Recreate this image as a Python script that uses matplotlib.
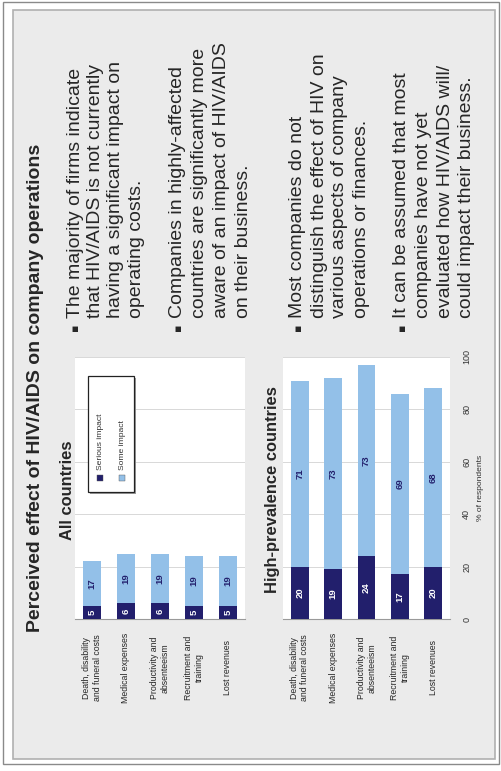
import matplotlib
matplotlib.use("Agg")
import matplotlib.pyplot as plt
from matplotlib.patches import Rectangle

# bild ist um 90 grad gedreht -> alles hochkant zeichnen
W, H = 501, 771

categories = ["Death, disability\nand funeral costs", "Medical expenses",
              "Productivity and\nabsenteeism", "Recruitment and\ntraining",
              "Lost revenues"]
all_serious = [5, 6, 6, 5, 5]
all_some = [17, 19, 19, 19, 19]
high_serious = [20, 19, 24, 17, 20]
high_some = [71, 73, 73, 69, 68]
value_ticks = [0, 20, 40, 60, 80, 100]
legend_labels = ["Serious impact", "Some impact"]

title = "Perceived effect of HIV/AIDS on company operations"
bullets = [
    ["The majority of firms indicate", "that HIV/AIDS is not currently",
     "having a significant impact on", "operating costs."],
    ["Companies in highly-affected", "countries are significantly more",
     "aware of an impact of HIV/AIDS", "on their business."],
    ["Most companies do not", "distinguish the effect of HIV on",
     "various aspects of company", "operations or finances."],
    ["It can be assumed that most", "companies have not yet",
     "evaluated how HIV/AIDS will/", "could impact their business."],
]

DARK = "#221f6c"
LIGHT = "#93c0e8"
BG = "#ebebeb"
TXT = "#262626"

plt.rcParams["font.family"] = ["Liberation Sans", "DejaVu Sans"]


def fx(x):
    return x / W


def fy(y):
    return 1 - y / H


def pt(px):
    return px * 72 / 100


fig = plt.figure(figsize=(W / 100, H / 100), dpi=100)

# rahmen + grauer hintergrund
fig.add_artist(Rectangle((fx(3), fy(764)), 496 / W, 762 / H, transform=fig.transFigure,
                         fill=False, edgecolor="#8a8a8a", lw=1.0, zorder=-3))
fig.add_artist(Rectangle((fx(13), fy(759)), 482 / W, 749 / H, transform=fig.transFigure,
                         facecolor=BG, edgecolor="#b0b0b0", lw=1.2, zorder=-2))

# titel
fig.text(fx(36), fy(388), title, rotation=90, ha="center", va="center",
         fontsize=pt(19.5), fontweight="bold", color=TXT)

# bullet texte
line_x = [[75, 95.5, 116, 136.5], [178, 200, 222, 244],
          [298, 319, 340, 361], [402, 423.5, 445, 466.5]]
for lines, xs in zip(bullets, line_x):
    fig.text(fx(xs[0]), fy(327), "\u25aa", rotation=90, ha="center", va="center",
             fontsize=pt(11), family="DejaVu Sans", color=TXT)
    for s, x in zip(lines, xs):
        fig.text(fx(x), fy(318), s, rotation=90, ha="center", va="bottom",
                 fontsize=pt(19.5), color=TXT)


def axes_px(x0, x1, y0, y1):
    return fig.add_axes([fx(x0), fy(y1), (x1 - x0) / W, (y1 - y0) / H])


def stacked(ax, serious, some, head, head_x):
    pos = list(range(len(categories)))
    ax.bar(pos, serious, width=0.53, color=DARK, zorder=3)
    ax.bar(pos, some, bottom=serious, width=0.53, color=LIGHT, zorder=3)
    for i in pos:
        ax.text(i, serious[i] / 2, str(serious[i]), rotation=90, ha="center", va="center",
                fontsize=pt(9.5), fontweight="bold", color="white", zorder=4)
        ax.text(i, serious[i] + some[i] / 2, str(some[i]), rotation=90, ha="center",
                va="center", fontsize=pt(9.5), fontweight="bold", color=DARK, zorder=4)
        ax.text(i, -0.187, categories[i], transform=ax.get_xaxis_transform(), rotation=90,
                ha="center", va="center", multialignment="center", fontsize=pt(8.8),
                color=TXT)
    ax.set_xlim(-0.5, 4.5)
    ax.set_ylim(0, 100)
    ax.set_yticks(value_ticks)
    ax.grid(axis="y", color="#d8d8d8", lw=0.7, zorder=0)
    ax.tick_params(length=0, labelleft=False, labelbottom=False)
    for k in ["top", "right", "left"]:
        ax.spines[k].set_visible(False)
    ax.spines["bottom"].set_color("#9a9a9a")
    ax.spines["bottom"].set_linewidth(0.8)
    ax.set_facecolor("white")
    fig.text(fx(head_x), fy(490), head, rotation=90, ha="center", va="center",
             fontsize=pt(16.5), fontweight="bold", color=TXT)


ax1 = axes_px(75, 245, 357, 619)
stacked(ax1, all_serious, all_some, "All countries", 67)

ax2 = axes_px(283, 450, 357, 619)
stacked(ax2, high_serious, high_some, "High-prevalence countries", 272)

# werteachse rechts vom unteren diagramm
for v in value_ticks:
    ax2.text(1.10, v, str(v), transform=ax2.get_yaxis_transform(), rotation=90,
             ha="center", va="center", fontsize=pt(9), color="#333333")
ax2.text(1.18, 0.5, "% of respondents", transform=ax2.transAxes, rotation=90,
         ha="center", va="center", fontsize=pt(8.5), color="#333333")

# legende von hand (gedreht)
fig.add_artist(Rectangle((fx(90), fy(494)), 46 / W, 116 / H, transform=fig.transFigure,
                         facecolor="#9a9a9a", edgecolor="none", zorder=5))
fig.add_artist(Rectangle((fx(88), fy(492)), 46 / W, 116 / H, transform=fig.transFigure,
                         facecolor="white", edgecolor="#222222", lw=0.9, zorder=6))
for lab, col, x in zip(legend_labels, [DARK, LIGHT], [100, 122]):
    fig.add_artist(Rectangle((fx(x - 3), fy(481)), 6 / W, 6 / H, transform=fig.transFigure,
                             facecolor=col, edgecolor="#555555", lw=0.3, zorder=7))
    fig.text(fx(x), fy(470), lab, rotation=90, ha="center", va="bottom",
             fontsize=pt(8.5), color="#333333", zorder=7)

fig.savefig("out.png", dpi=100)
